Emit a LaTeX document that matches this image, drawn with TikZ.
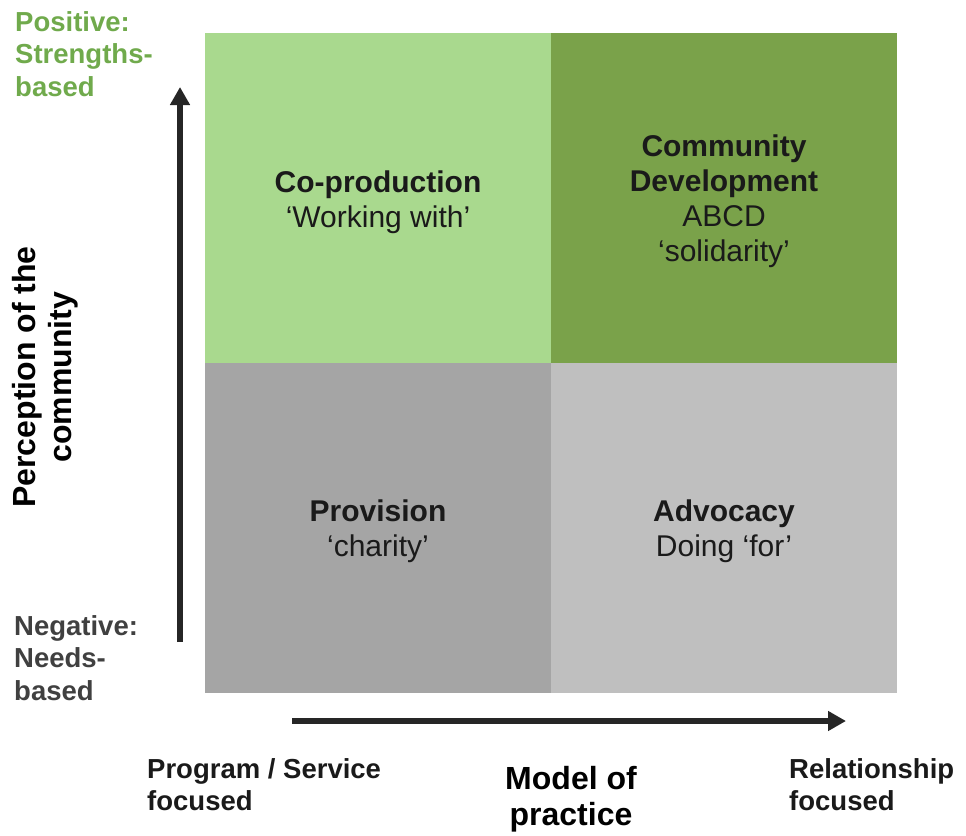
\documentclass[tikz,border=0pt]{standalone}
\usepackage{fontspec}
\setmainfont{Liberation Sans}
\usetikzlibrary{arrows.meta}
\definecolor{lightgreen}{RGB}{169,217,142}
\definecolor{darkgreen}{RGB}{122,162,74}
\definecolor{midgray}{RGB}{165,165,165}
\definecolor{palegray}{RGB}{191,191,191}
\definecolor{posgreen}{RGB}{112,170,76}
\definecolor{neggray}{RGB}{64,64,64}
\definecolor{axisgray}{RGB}{38,38,38}
\definecolor{inkdark}{RGB}{26,26,26}
\begin{document}
\begin{tikzpicture}[x=1pt,y=-1pt,
  quad/.style={rectangle, inner sep=0pt, minimum width=346pt, minimum height=330pt},
  quadtext/.style={inner sep=0pt, align=center, text=inkdark,
    font=\fontsize{30}{35}\selectfont},
  sidelabel/.style={inner sep=0pt, align=left, anchor=north west,
    font=\bfseries\fontsize{27.5}{32.5}\selectfont},
  axistitle/.style={inner sep=0pt, align=center, text=black,
    font=\bfseries\fontsize{32}{36}\selectfont},
  axisarrow/.style={line width=6pt, draw=axisgray, -{Triangle[length=18pt,width=19pt]}}]
\useasboundingbox (0,0) rectangle (966,835);

% four quadrants
\node[quad, fill=lightgreen] (coprod) at (378,198) {};
\node[quad, fill=darkgreen] (commdev) at (724,198) {};
\node[quad, fill=midgray] (provision) at (378,527.5) {};
\node[quad, fill=palegray] (advocacy) at (724,527.5) {};

% quadrant captions
\node[quadtext] (coprodtext) at ([yshift=-4pt]coprod.center)
  {\textbf{Co-production}\\‘Working with’};
\node[quadtext] (commdevtext) at ([yshift=-3pt]commdev.center)
  {\textbf{Community}\\\textbf{Development}\\ABCD\\‘solidarity’};
\node[quadtext] (provisiontext) at ([yshift=-4pt]provision.center)
  {\textbf{Provision}\\‘charity’};
\node[quadtext] (advocacytext) at ([yshift=-4pt]advocacy.center)
  {\textbf{Advocacy}\\Doing ‘for’};

% axes
\coordinate (ytail) at (180,642);
\coordinate (yhead) at (180,87);
\coordinate (xtail) at (292,721);
\coordinate (xhead) at (846,721);
\draw[axisarrow] (ytail) -- (yhead);
\draw[axisarrow] (xtail) -- (xhead);

% axis labels
\node[sidelabel, text=posgreen] (positive) at (15,11)
  {Positive:\\Strengths-\\based};
\node[sidelabel, text=neggray] (negative) at (14,615)
  {Negative:\\Needs-\\based};
\node[sidelabel, text=inkdark] (program) at (147,758)
  {Program / Service\\focused};
\node[sidelabel, text=inkdark] (relation) at (789,758)
  {Relationship\\focused};
\node[axistitle, rotate=90] (perception) at (45,377)
  {Perception of the\\community};
\node[axistitle] (model) at (571,799)
  {Model of\\practice};
\end{tikzpicture}
\end{document}
